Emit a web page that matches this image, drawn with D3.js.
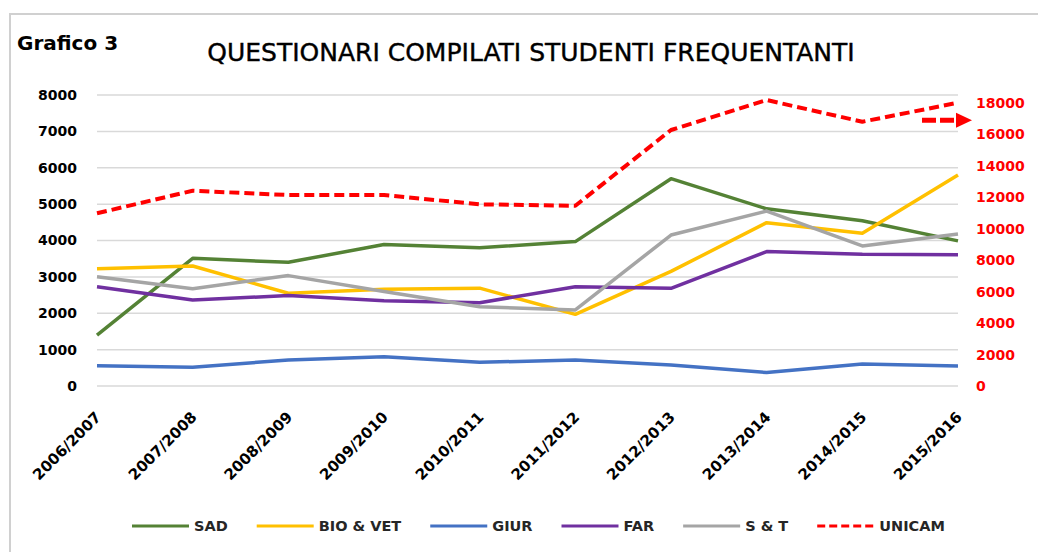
<!DOCTYPE html>
<html>
<head>
<meta charset="utf-8">
<script src="https://cdn.jsdelivr.net/npm/d3@7"></script>
<style>
  body { margin: 0; background: #fff; }
  svg { display: block; }
</style>
</head>
<body>
<svg id="chart" width="1038" height="552"></svg>
<script>
const years = ['2006/2007','2007/2008','2008/2009','2009/2010','2010/2011',
               '2011/2012','2012/2013','2013/2014','2014/2015','2015/2016'];

const sad    = [1400, 3510, 3400, 3890, 3800, 3970, 5700, 4870, 4545, 3990];
const bioVet = [3220, 3300, 2550, 2660, 2690, 1970, 3150, 4490, 4200, 5800];
const giur   = [560, 515, 715, 805, 650, 715, 575, 370, 605, 550];
const far    = [2730, 2365, 2485, 2345, 2290, 2730, 2685, 3695, 3620, 3610];
const st     = [3005, 2675, 3035, 2600, 2180, 2090, 4150, 4810, 3850, 4180];
// UNICAM is on the right (red) axis
const unicam = [10980, 12415, 12140, 12140, 11550, 11460, 16275, 18180, 16800, 18010];

const leftTicks = [0, 1000, 2000, 3000, 4000, 5000, 6000, 7000, 8000];
const rightTicks = [0, 2000, 4000, 6000, 8000, 10000, 12000, 14000, 16000, 18000];

const series = [
  { name: 'SAD', values: sad, color: '#548235' },
  { name: 'BIO & VET', values: bioVet, color: '#FFC000' },
  { name: 'GIUR', values: giur, color: '#4472C4' },
  { name: 'FAR', values: far, color: '#7030A0' },
  { name: 'S & T', values: st, color: '#A5A5A5' },
  { name: 'UNICAM', values: unicam, color: '#FF0000', right: true }
];

const svg = d3.select('#chart');
const font = 'DejaVu Sans, sans-serif';

// frame
svg.append('path')
  .attr('d', 'M10,552 L10,14 L1038,14')
  .attr('fill', 'none')
  .attr('stroke', '#d0d0d0')
  .attr('stroke-width', 2);

svg.append('text')
  .attr('x', 17)
  .attr('y', 50)
  .style('font-family', font)
  .style('font-weight', 'bold')
  .style('font-size', '20px')
  .text('Grafico 3');

svg.append('text')
  .attr('x', 531)
  .attr('y', 61)
  .attr('text-anchor', 'middle')
  .style('font-family', font)
  .style('font-size', '25px')
  .attr('stroke', '#000')
  .attr('stroke-width', 0.4)
  .text('QUESTIONARI COMPILATI STUDENTI FREQUENTANTI');

let x = d3.scalePoint()
  .domain(years)
  .range([97, 958]);

let yLeft = d3.scaleLinear()
  .domain([0, 8000])
  .range([386, 95]);

let yRight = d3.scaleLinear()
  .domain([0, 18500])
  .range([386, 95]);

// grid
svg.append('g')
  .selectAll('line')
  .data(leftTicks)
  .enter()
  .append('line')
  .attr('x1', 97)
  .attr('x2', 958)
  .attr('y1', d => yLeft(d))
  .attr('y2', d => yLeft(d))
  .attr('stroke', '#d9d9d9')
  .attr('stroke-width', 1.5);

// left axis
let leftAxis = svg.append('g')
  .attr('transform', 'translate(77,0)')
  .call(d3.axisLeft(yLeft).tickValues(leftTicks).tickFormat(d3.format('d')).tickSize(0).tickPadding(0));
leftAxis.select('.domain').remove();
leftAxis.selectAll('text')
  .style('font-family', font)
  .style('font-weight', 'bold')
  .style('font-size', '14px')
  .attr('fill', '#000');

// right axis
let rightAxis = svg.append('g')
  .attr('transform', 'translate(976,0)')
  .call(d3.axisRight(yRight).tickValues(rightTicks).tickFormat(d3.format('d')).tickSize(0).tickPadding(0));
rightAxis.select('.domain').remove();
rightAxis.selectAll('text')
  .style('font-family', font)
  .style('font-weight', 'bold')
  .style('font-size', '14px')
  .attr('fill', '#FF0000');

// x labels
svg.append('g')
  .selectAll('text')
  .data(years)
  .enter()
  .append('text')
  .attr('text-anchor', 'end')
  .attr('transform', d => `translate(${x(d) + 5},418) rotate(-45)`)
  .style('font-family', font)
  .style('font-weight', 'bold')
  .style('font-size', '15px')
  .text(d => d);

// lines
for (let s of series) {
  let yScale = s.right ? yRight : yLeft;
  let line = d3.line()
    .x((d, i) => x(years[i]))
    .y(d => yScale(d));

  svg.append('path')
    .datum(s.values)
    .attr('d', line)
    .attr('fill', 'none')
    .attr('stroke', s.color)
    .attr('stroke-width', s.right ? 4 : 3.5)
    .attr('stroke-linejoin', 'round')
    .attr('stroke-dasharray', s.right ? '10,5' : null);
}

// red arrow pointing at the right axis
let arrowY = yRight(16900);
let lastX = x(years[years.length - 1]);
svg.append('line')
  .attr('x1', lastX - 36)
  .attr('x2', lastX)
  .attr('y1', arrowY)
  .attr('y2', arrowY)
  .attr('stroke', '#FF0000')
  .attr('stroke-width', 5)
  .attr('stroke-dasharray', '14,4');
svg.append('path')
  .attr('d', `M${lastX - 2},${arrowY - 7.5} L${lastX + 14},${arrowY} L${lastX - 2},${arrowY + 7.5} Z`)
  .attr('fill', '#FF0000');

// legend
let legend = svg.append('g')
  .attr('transform', 'translate(132,526)');

let lx = 0;
for (let s of series) {
  let item = legend.append('g')
    .attr('transform', `translate(${lx},0)`);

  item.append('line')
    .attr('x1', 0)
    .attr('x2', 57)
    .attr('stroke', s.color)
    .attr('stroke-width', 3)
    .attr('stroke-dasharray', s.right ? '8,4' : null);

  let t = item.append('text')
    .attr('x', 62)
    .attr('dy', '0.36em')
    .style('font-family', font)
    .style('font-weight', 'bold')
    .style('font-size', '14.5px')
    .attr('fill', '#262626')
    .text(s.name);

  lx += 62 + t.node().getComputedTextLength() + 29;
}
</script>
</body>
</html>
